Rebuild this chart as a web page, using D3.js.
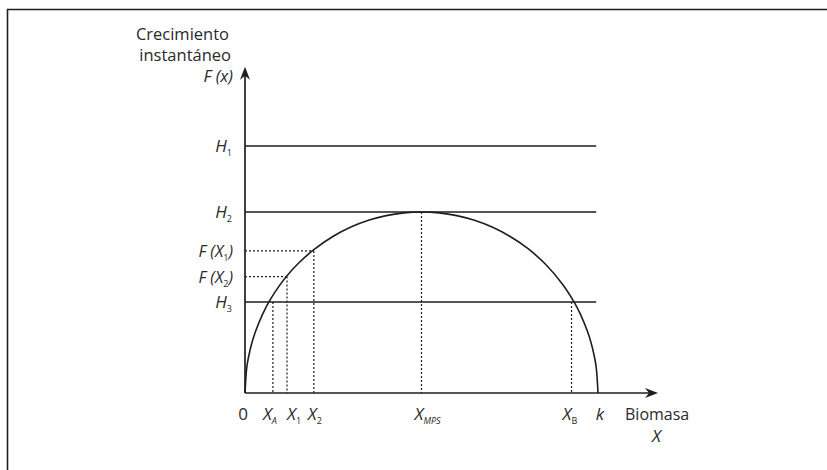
<!DOCTYPE html>
<html><head><meta charset="utf-8">
<script src="https://cdn.jsdelivr.net/npm/d3@7"></script>
<style>body{margin:0;background:#fff}svg{display:block}text{font-family:"Open Sans",sans-serif;fill:#2a2a2a}</style>
</head><body><svg id="c" width="827" height="470"></svg>
<script>
// Data (x in units with k = 100, y in units with H2 = maximum growth = 100)
const hLevels = [{name:"H", sub:"1", v:136.5}, {name:"H", sub:"2", v:100}, {name:"H", sub:"3", v:50.3}];
const fLevels = [{name:"F (X", sub:"1", tail:")", v:78.5, x:19.5}, {name:"F (X", sub:"2", tail:")", v:64.3, x:11.9}];
const xMarks = [{name:"X", sub:"A", x:7.9, y:50.3}, {name:"X", sub:"1", x:11.9, y:64.3}, {name:"X", sub:"2", x:19.5, y:78.5},
                {name:"X", sub:"MPS", x:50, y:100}, {name:"X", sub:"B", x:92.5, y:50.3}];
const kValue = 100;
const curveX = [0, 0.5, 1, 2, 3, 5, 7.1, 10, 11.9, 15, 19.5, 25, 30, 35, 40, 45, 50, 55, 60, 65, 70, 75, 80, 85, 90, 93, 95, 97, 98, 99, 99.5, 100];
const curveY = [0, 14.1, 19.9, 28, 34.1, 43.6, 51.4, 60, 64.8, 71.4, 79.2, 86.6, 91.7, 95.4, 98, 99.5, 100, 99.5, 98, 95.4, 91.7, 86.6, 80, 71.4, 60, 51, 43.6, 34.1, 28, 19.9, 14.1, 0];
const axisMaxX = 117, axisMaxY = 180.3, lineEndX = 99.5;

const svg = d3.select("#c");
const x = d3.scaleLinear([0, 100], [245, 598]);
const y = d3.scaleLinear([0, 100], [393, 212]);
const ink = "#1e1e1e";
const labelNudge = {A:-10, "1":0, "2":-6, MPS:-7, B:-9};

// frame
svg.append("path").attr("d","M7.5,470V9.5H827").attr("fill","none").attr("stroke",ink).attr("stroke-width",1.6);

// horizontal H lines
hLevels.forEach(h=>{
  svg.append("line").attr("x1",x(0)).attr("x2",x(lineEndX)).attr("y1",y(h.v)).attr("y2",y(h.v))
    .attr("stroke",ink).attr("stroke-width",1.5);
  const t = svg.append("text").attr("x",232).attr("y",y(h.v)+6).attr("text-anchor","end").style("font-size","17px");
  t.append("tspan").style("font-style","italic").text(h.name);
  t.append("tspan").attr("dy",4).style("font-size","9px").text(h.sub);
});

// dotted horizontals
fLevels.forEach(f=>{
  svg.append("line").attr("x1",x(0)).attr("x2",x(f.x)).attr("y1",y(f.v)).attr("y2",y(f.v))
    .attr("stroke",ink).attr("stroke-width",1.2).attr("stroke-dasharray","2,2");
  const t = svg.append("text").attr("x",233).attr("y",y(f.v)+6).attr("text-anchor","end").style("font-size","16px").style("font-style","italic");
  t.append("tspan").text(f.name);
  t.append("tspan").attr("dy",4).style("font-size","9px").style("font-style","normal").text(f.sub);
  t.append("tspan").attr("dy",-4).text(f.tail);
});

// dotted verticals + labels
xMarks.forEach(m=>{
  svg.append("line").attr("x1",x(m.x)).attr("x2",x(m.x)).attr("y1",y(m.y)).attr("y2",y(0))
    .attr("stroke",ink).attr("stroke-width",1.2).attr("stroke-dasharray","2,2");
  const t = svg.append("text").attr("x",x(m.x)+labelNudge[m.sub]).attr("y",420).style("font-size","17px");
  t.append("tspan").style("font-style","italic").text(m.name);
  t.append("tspan").attr("dy",4).style("font-size","9px").style("font-style", m.sub==="A"||m.sub==="MPS"?"italic":"normal").text(m.sub);
});

// curve
const pts = curveX.map((v,i)=>[v, curveY[i]]);
svg.append("path").attr("d", d3.line().x(d=>x(d[0])).y(d=>y(d[1])).curve(d3.curveCatmullRom.alpha(0.5))(pts))
  .attr("fill","none").attr("stroke",ink).attr("stroke-width",1.6);

// axes
svg.append("line").attr("x1",x(0)).attr("x2",x(axisMaxX)-6).attr("y1",y(0)).attr("y2",y(0)).attr("stroke",ink).attr("stroke-width",1.7);
svg.append("line").attr("x1",x(0)).attr("x2",x(0)).attr("y1",y(0)).attr("y2",y(axisMaxY)+6).attr("stroke",ink).attr("stroke-width",1.7);
const ax = x(axisMaxX), ay = y(0);
svg.append("path").attr("d",`M${ax},${ay}L${ax-13},${ay-5}L${ax-9},${ay}L${ax-13},${ay+5}Z`).attr("fill",ink);
const bx = x(0), by = y(axisMaxY);
svg.append("path").attr("d",`M${bx},${by}L${bx-5},${by+13}L${bx},${by+9}L${bx+5},${by+13}Z`).attr("fill",ink);

// axis texts
svg.append("text").attr("x",x(0)-2).attr("y",420).attr("text-anchor","middle").style("font-size","17px").text("0");
svg.append("text").attr("x",x(kValue)+2).attr("y",420).attr("text-anchor","middle").style("font-size","17px").style("font-style","italic").text("k");
svg.append("text").attr("x",625).attr("y",420).style("font-size","16px").text("Biomasa");
svg.append("text").attr("x",652).attr("y",442).style("font-size","17px").style("font-style","italic").text("X");
svg.append("text").attr("x",229).attr("y",40).attr("text-anchor","end").style("font-size","16.5px").text("Crecimiento");
svg.append("text").attr("x",231).attr("y",61).attr("text-anchor","end").style("font-size","16.5px").text("instantáneo");
svg.append("text").attr("x",233).attr("y",82).attr("text-anchor","end").style("font-size","16.5px").style("font-style","italic").text("F (x)");
</script></body></html>
